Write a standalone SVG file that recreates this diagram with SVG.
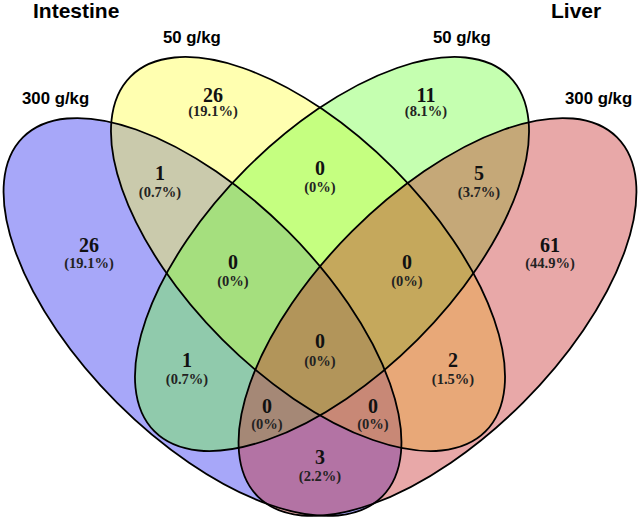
<svg xmlns="http://www.w3.org/2000/svg" width="640" height="518" viewBox="0 0 640 518">
<style>
.f{fill-opacity:0.4;stroke:none}
.o{fill:none;stroke:#000;stroke-width:1.8}
.t{font-family:"Liberation Sans",Arial,sans-serif;font-weight:bold;font-size:21px;fill:#000}
.s{font-family:"Liberation Sans",Arial,sans-serif;font-weight:bold;font-size:16.8px;fill:#000}
.n{font-family:"Liberation Serif","Times New Roman",serif;font-weight:bold;font-size:20px;fill:#111;text-anchor:middle}
.p{font-family:"Liberation Serif","Times New Roman",serif;font-weight:bold;font-size:14.5px;fill:#222;text-anchor:middle}
</style>
<rect width="640" height="518" fill="#fff"/>
<g id="fills">
<ellipse id="set-int300" class="f" fill="#2323f0" cx="0" cy="0" rx="254" ry="121" transform="translate(202.5 317) rotate(45)"/>
<ellipse id="set-int50" class="f" fill="#ffff3a" cx="0" cy="0" rx="251" ry="121" transform="translate(308 254) rotate(45)"/>
<ellipse id="set-liv50" class="f" fill="#6eff3a" cx="0" cy="0" rx="251" ry="121" transform="translate(332 254) rotate(-45)"/>
<ellipse id="set-liv300" class="f" fill="#c62626" cx="0" cy="0" rx="254" ry="121" transform="translate(437.5 317) rotate(-45)"/>
</g>
<g id="outlines">
<ellipse class="o" cx="0" cy="0" rx="254" ry="121" transform="translate(202.5 317) rotate(45)"/>
<ellipse class="o" cx="0" cy="0" rx="251" ry="121" transform="translate(308 254) rotate(45)"/>
<ellipse class="o" cx="0" cy="0" rx="251" ry="121" transform="translate(332 254) rotate(-45)"/>
<ellipse class="o" cx="0" cy="0" rx="254" ry="121" transform="translate(437.5 317) rotate(-45)"/>
</g>
<g id="titles">
<text class="t" x="33" y="18">Intestine</text>
<text class="t" x="551" y="18">Liver</text>
<text class="s" x="163" y="43">50 g/kg</text>
<text class="s" x="22" y="104">300 g/kg</text>
<text class="s" x="433" y="43">50 g/kg</text>
<text class="s" x="565" y="104">300 g/kg</text>
</g>
<g id="counts">
<g id="r-A"><text class="n" x="89" y="252">26</text><text class="p" x="89" y="268">(19.1%)</text></g>
<g id="r-B"><text class="n" x="213" y="101.5">26</text><text class="p" x="213" y="116">(19.1%)</text></g>
<g id="r-C"><text class="n" x="426" y="101.5">11</text><text class="p" x="426" y="116">(8.1%)</text></g>
<g id="r-D"><text class="n" x="550" y="252">61</text><text class="p" x="550" y="268">(44.9%)</text></g>
<g id="r-AB"><text class="n" x="160" y="180">1</text><text class="p" x="160" y="197">(0.7%)</text></g>
<g id="r-BC"><text class="n" x="320" y="175">0</text><text class="p" x="320" y="192">(0%)</text></g>
<g id="r-CD"><text class="n" x="479" y="180">5</text><text class="p" x="479" y="197">(3.7%)</text></g>
<g id="r-ABC"><text class="n" x="233" y="269">0</text><text class="p" x="233" y="286">(0%)</text></g>
<g id="r-BCD"><text class="n" x="407" y="269">0</text><text class="p" x="407" y="286">(0%)</text></g>
<g id="r-ABCD"><text class="n" x="320" y="348">0</text><text class="p" x="320" y="366">(0%)</text></g>
<g id="r-AC"><text class="n" x="187" y="367">1</text><text class="p" x="187" y="384">(0.7%)</text></g>
<g id="r-BD"><text class="n" x="453" y="367">2</text><text class="p" x="453" y="384">(1.5%)</text></g>
<g id="r-ACD"><text class="n" x="267" y="413">0</text><text class="p" x="267" y="429">(0%)</text></g>
<g id="r-ABD"><text class="n" x="373" y="413">0</text><text class="p" x="373" y="429">(0%)</text></g>
<g id="r-AD"><text class="n" x="320" y="464">3</text><text class="p" x="320" y="481">(2.2%)</text></g>
</g>
</svg>
